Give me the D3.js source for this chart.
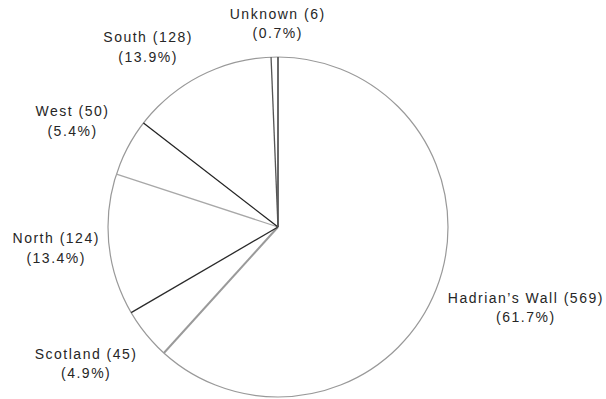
<!DOCTYPE html>
<html>
<head>
<meta charset="utf-8">
<script src="https://cdn.jsdelivr.net/npm/d3@7"></script>
<style>
  body { margin: 0; background: #fff; }
  .label { font-family: 'Liberation Sans', Arial, sans-serif; font-size: 14px; letter-spacing: 1.5px; fill: #262626; }
</style>
</head>
<body>
<svg id="chart"></svg>
<script>
// data, clockwise from 12 o'clock
const regions = ['Hadrian\u2019s Wall', 'Scotland', 'North', 'West', 'South', 'Unknown'];
const counts = [569, 45, 124, 50, 128, 6];
const percents = ['61.7%', '4.9%', '13.4%', '5.4%', '13.9%', '0.7%'];

const width = 606, height = 399;
const cx = 278, cy = 227, radius = 170;

// line colour at the start edge of each slice (the scan has dark and pale edges)
const edgeColour = {
  'Hadrian\u2019s Wall': '#555', 'Scotland': '#9a9a9a', 'North': '#2a2a2a',
  'West': '#a8a8a8', 'South': '#222', 'Unknown': '#555'
};
// small nudges so the labels sit where the original placed them
const labelNudge = {
  'Hadrian\u2019s Wall': [51, 4], 'Scotland': [-28, 3], 'North': [-12, -2],
  'West': [-19, -8], 'South': [-33, 7], 'Unknown': [4, 7]
};

const data = regions.map((r, i) => ({region: r, count: counts[i], pct: percents[i]}));

const svg = d3.select('#chart')
    .attr('width', width)
    .attr('height', height);

const g = svg.append('g')
    .attr('transform', `translate(${cx},${cy})`);

const pie = d3.pie()
    .value(d => d.count)
    .sort(null);

const arcs = pie(data);

const arc = d3.arc()
    .innerRadius(0)
    .outerRadius(radius);

// slices
g.selectAll('.slice')
    .data(arcs)
    .join('path')
    .attr('class', 'slice')
    .attr('d', arc)
    .attr('fill', '#fff')
    .attr('stroke', 'none');

// outer rim
g.append('circle')
    .attr('r', radius)
    .attr('fill', 'none')
    .attr('stroke', '#999')
    .attr('stroke-width', 1.2);

// radial edges
const edges = arcs.concat([{startAngle: 2 * Math.PI, data: {region: 'Unknown'}}]);
g.selectAll('.edge')
    .data(edges)
    .join('line')
    .attr('class', 'edge')
    .attr('x1', 0)
    .attr('y1', 0)
    .attr('x2', d => radius * Math.sin(d.startAngle))
    .attr('y2', d => -radius * Math.cos(d.startAngle))
    .attr('stroke', d => edgeColour[d.data.region])
    .attr('stroke-width', d => d.data.region === 'Scotland' ? 2 : 1.3);

// labels
const labelArc = d3.arc()
    .innerRadius(radius + 41)
    .outerRadius(radius + 41);

const labels = g.selectAll('.label')
    .data(arcs)
    .join('text')
    .attr('class', 'label')
    .attr('text-anchor', 'middle')
    .attr('transform', d => {
      const [x, y] = labelArc.centroid(d);
      const [dx, dy] = labelNudge[d.data.region];
      return `translate(${x + dx},${y + dy})`;
    });

labels.append('tspan')
    .attr('x', 0)
    .attr('dy', '-0.3em')
    .text(d => `${d.data.region} (${d.data.count})`);

labels.append('tspan')
    .attr('x', 0)
    .attr('dy', '1.4em')
    .text(d => `(${d.data.pct})`);
</script>
</body>
</html>
